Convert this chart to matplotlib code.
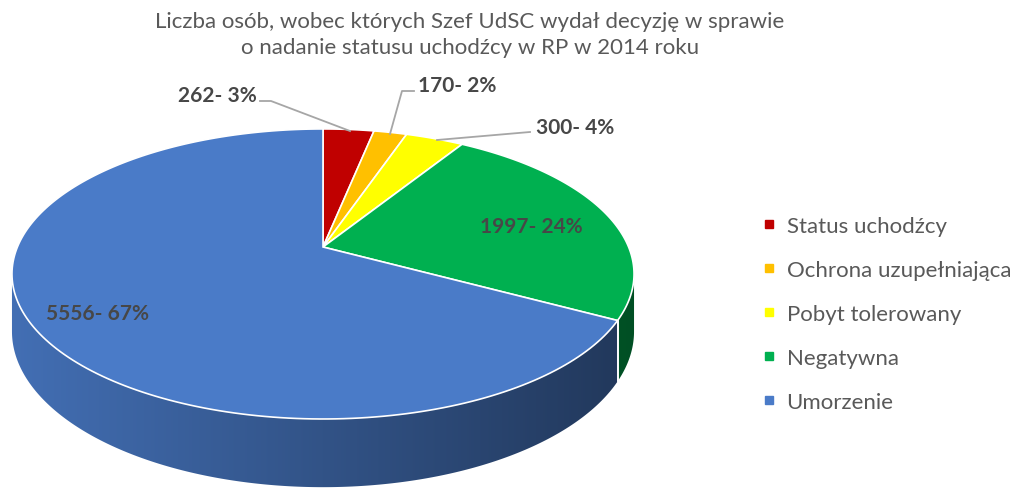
import numpy as np
import matplotlib.pyplot as plt
from matplotlib.patches import Polygon
from matplotlib.lines import Line2D

categories = ["Status uchodźcy", "Ochrona uzupełniająca", "Pobyt tolerowany",
              "Negatywna", "Umorzenie"]
values = [262, 170, 300, 1997, 5556]
colors = ["#C00000", "#FFC000", "#FFFF00", "#00B050", "#4A7BC8"]
title = "Liczba osób, wobec których Szef UdSC wydał decyzję w sprawie\no nadanie statusu uchodźcy w RP w 2014 roku"

# label text positions (pixels) and leader line paths
label_pos = [(217, 96), (457, 86), (575, 128), (531, 227), (98, 314)]
leaders = [[(260, 102), (271, 102), (350, 132)],
           [(414, 92), (402, 92), (390, 135)],
           [(530, 133), (437, 141)],
           None, None]

# projection of the tilted pie (pixel units)
cx, cy = 323, 248
SX, SY, K, H = 305.6, 140.0, 0.186, 55.5


def proj(t, drop=0.0):
    z = np.cos(t)
    den = 1 + K * z
    return cx + SX * np.sin(t) / den, cy - SY * z / den + drop / den


def rgb(hexcol):
    return np.array([int(hexcol[i:i + 2], 16) / 255 for i in (1, 3, 5)])


fig = plt.figure(figsize=(10.23, 4.89), dpi=100)
ax = fig.add_axes([0, 0, 1, 1])
ax.set_xlim(0, 1023)
ax.set_ylim(489, 0)
ax.axis("off")

total = sum(values)
bounds = np.concatenate([[0], np.cumsum(values) / total]) * 2 * np.pi
t_vis0, t_vis1 = np.arccos(-K), 2 * np.pi - np.arccos(-K)

# side wall with horizontal shading
gx = np.linspace(0, 1023, 512)
fac = np.clip(0.9 - 0.45 * (gx - 12) / 621, 0.4, 1)
for i in range(len(values)):
    a0, a1 = max(bounds[i], t_vis0), min(bounds[i + 1], t_vis1)
    if a1 <= a0:
        continue
    ts = np.linspace(a0, a1, 300)
    xt, yt = proj(ts)
    xb, yb = proj(ts[::-1], H)
    poly = Polygon(list(zip(xt, yt)) + list(zip(xb, yb)), closed=True,
                   facecolor="none", edgecolor="none")
    ax.add_patch(poly)
    img = rgb(colors[i])[None, None, :] * fac[None, :, None]
    im = ax.imshow(np.repeat(img, 2, axis=0), extent=(0, 1023, 489, 0),
                   aspect="auto", interpolation="bilinear", zorder=1)
    im.set_clip_path(poly)
    # white seam at slice boundary on the side
    for b in (bounds[i], bounds[i + 1]):
        if t_vis0 < b < t_vis1:
            x0, y0 = proj(b)
            x1, y1 = proj(b, H)
            ax.plot([x0, x1], [y0, y1], color="white", lw=1.2, zorder=2)

# top surface
for i in range(len(values)):
    ts = np.linspace(bounds[i], bounds[i + 1], 200)
    xs, ys = proj(ts)
    pts = [(cx, cy)] + list(zip(xs, ys))
    ax.add_patch(Polygon(pts, closed=True, facecolor=colors[i],
                         edgecolor="white", linewidth=1.2, zorder=3))

# data labels
for i, v in enumerate(values):
    pct = round(100 * v / total)
    ax.text(label_pos[i][0], label_pos[i][1], f"{v}- {pct}%", ha="center",
            va="center", fontsize=15, fontweight="bold", color="#474747",
            family="Lato", zorder=5)
    if leaders[i]:
        lx, ly = zip(*leaders[i])
        ax.plot(lx, ly, color="#A6A6A6", linewidth=1.3, zorder=4)

ax.text(470, 35, title, ha="center", va="center", fontsize=16,
        color="#595959", family="Lato", linespacing=1.32)

handles = [Line2D([], [], marker="s", linestyle="", markersize=6,
                  markerfacecolor=c, markeredgecolor=c) for c in colors]
leg = fig.legend(handles, categories, loc="upper left",
                 bbox_to_anchor=(741 / 1023, 1 - 197 / 489), frameon=False,
                 handlelength=0.7, handletextpad=0.45, labelspacing=1.08,
                 prop={"family": "Lato", "size": 16})
for txt in leg.get_texts():
    txt.set_color("#595959")

fig.savefig("out.png", dpi=100)
